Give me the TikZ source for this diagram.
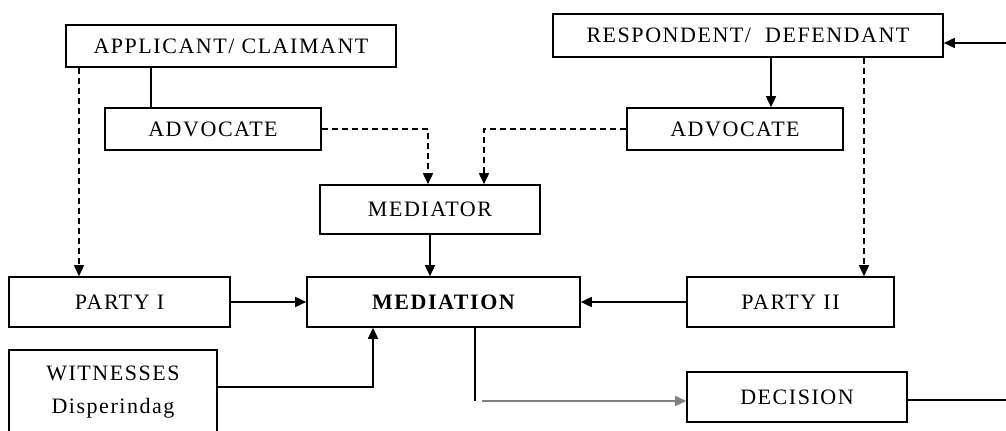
\documentclass[tikz,border=0pt]{standalone}
\usepackage{fontspec}
\newfontfamily\boxfont[LetterSpace=7]{Liberation Serif}
\usetikzlibrary{arrows.meta}

\begin{document}
\begin{tikzpicture}[x=0.5pt, y=-0.5pt,
  box/.style={draw, line width=0.8pt, inner sep=0pt, align=center,
    font=\boxfont\fontsize{11}{16.5}\selectfont},
  link/.style={line width=0.8pt, -{Triangle[length=5.5pt, width=5pt]}},
  dlink/.style={link, dash pattern=on 3pt off 2pt}]
\useasboundingbox (0, 0) rectangle (1006, 431);
% parties on both sides
\node [box, minimum width=165pt, minimum height=21pt] (app) at (231, 46) {APPLICANT/ CLAIMANT};
\node [box, minimum width=108pt, minimum height=21pt] (advl) at (213, 129) {ADVOCATE};
\node [box, minimum width=195pt, minimum height=21.5pt] (resp) at (748, 35.5) {RESPONDENT/\ \ DEFENDANT};
\node [box, minimum width=108pt, minimum height=21pt] (advr) at (735, 129) {ADVOCATE};
\node [box, minimum width=110pt, minimum height=24.5pt] (mediator) at (430, 209.5) {MEDIATOR};
\node [box, minimum width=136.5pt, minimum height=25pt] (mediation) at (443.5, 302) {\bfseries MEDIATION};
\node [box, minimum width=110.5pt, minimum height=25pt] (party1) at (119.5, 302) {PARTY I};
\node [box, minimum width=103.5pt, minimum height=25pt] (party2) at (790.5, 302) {PARTY II};
\node [box, minimum width=104pt, minimum height=42pt] (witness) at (113, 392) {WITNESSES\\Disperindag};
\node [box, minimum width=110pt, minimum height=25pt] (decision) at (797, 397) {DECISION};
\coordinate (edgetop) at (1006, 43);
\coordinate (edgebot) at (1006, 400);
% connectors
\draw [line width=0.8pt] (app.south -| 151, 0) -- (advl.north -| 151, 0);
\draw [dlink] (app.south -| 79, 0) -- (party1.north -| 79, 0);
\draw [dlink] (advl.east) -| (mediator.north -| 428, 0);
\draw [dlink] (advr.west) -| (mediator.north -| 484, 0);
\draw [link] (resp.south -| 771, 0) -- (advr.north -| 771, 0);
\draw [dlink] (resp.south -| 864, 0) -- (party2.north -| 864, 0);
\draw [link] (mediator.south -| 430, 0) -- (mediation.north -| 430, 0);
\draw [link] (party1) -- (mediation);
\draw [link] (party2) -- (mediation);
\draw [link] (witness.east |- 0, 387) -| (mediation.south -| 373, 0);
\draw [line width=0.8pt] (mediation.south -| 475, 0) -- (475, 401);
\draw [link, gray] (482, 401) -- (decision.west |- 0, 401);
\draw [line width=0.8pt] (decision.east |- edgebot) -- (edgebot);
\draw [link] (edgetop) -- (resp.east |- edgetop);
\end{tikzpicture}
\end{document}
